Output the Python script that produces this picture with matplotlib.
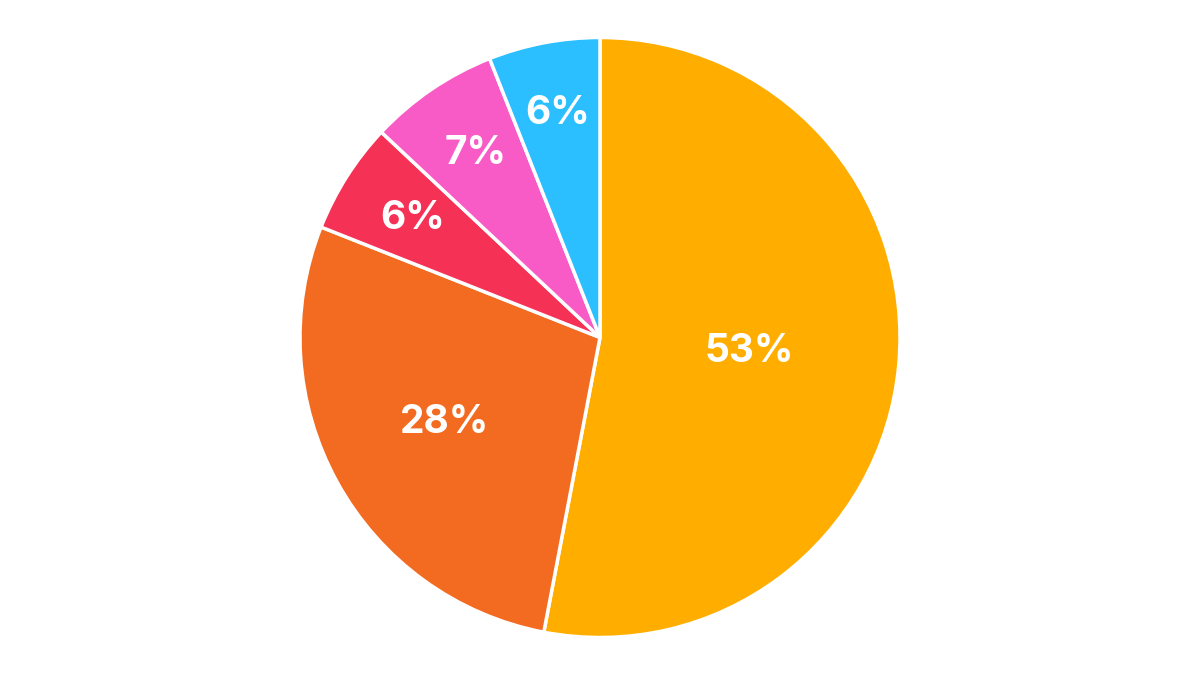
import numpy as np
import matplotlib
matplotlib.use("Agg")
import matplotlib.pyplot as plt

labels = ["A", "B", "C", "D", "E"]
values = [53, 28, 6, 7, 6]
colors = ["#FFAE00", "#F26B21", "#F53156", "#F95BC6", "#2BBFFF"]
label_radius = [0.50, 0.59, 0.74, 0.74, 0.76]

fig = plt.figure(figsize=(12, 6.75), dpi=100)
ax = fig.add_axes([0, 0, 1, 1])
wedges, _ = ax.pie(values, colors=colors, startangle=90, counterclock=False,
                   radius=1.0, center=(0, 0),
                   wedgeprops=dict(edgecolor="white", linewidth=2.5))
total = sum(values)
for w, v, r in zip(wedges, values, label_radius):
    ang = np.deg2rad((w.theta1 + w.theta2) / 2)
    ax.text(r * np.cos(ang), r * np.sin(ang), f"{round(v / total * 100)}%",
            ha="center", va="center", color="white", fontsize=28,
            fontweight="bold", family="Inter")
ax.set_xlim(-2.0, 2.0)
ax.set_ylim(-1.125, 1.125)
ax.set_aspect("equal")
ax.axis("off")
fig.savefig("out.png", dpi=100, facecolor="white")
